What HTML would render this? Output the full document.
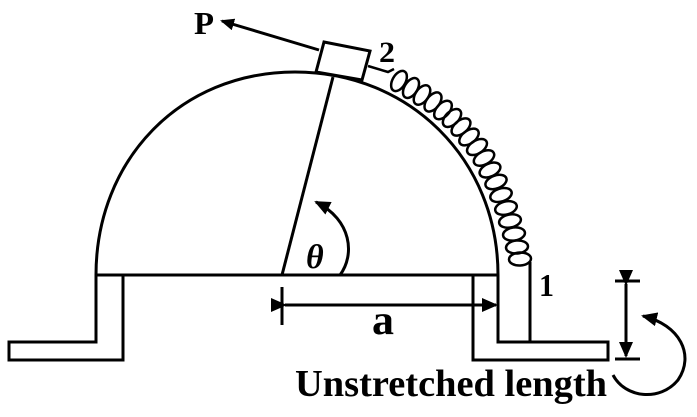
<!DOCTYPE html>
<html><head><meta charset="utf-8"><style>
html,body{margin:0;padding:0;background:#fff;width:697px;height:417px;overflow:hidden}
text{font-family:"Liberation Serif",serif;font-weight:bold;fill:#000}
</style></head><body>
<svg width="697" height="417" viewBox="0 0 697 417" xmlns="http://www.w3.org/2000/svg">
<defs>
<marker id="ah2" markerWidth="16" markerHeight="14" refX="14" refY="7" orient="auto" markerUnits="userSpaceOnUse">
<path d="M0,0 L16,7 L0,14 z" fill="#000"/></marker>
<marker id="ah3" markerWidth="14" markerHeight="12" refX="12" refY="6" orient="auto" markerUnits="userSpaceOnUse">
<path d="M0,0 L14,6 L0,12 z" fill="#000"/></marker>
</defs>
<g fill="none" stroke="#000" stroke-width="3">
<path d="M96,275 C96,160 180,72 295,72 C410,72 498,160 498,275"/>
<line x1="96" y1="275" x2="498" y2="275"/>
<path d="M96,275 L96,342 L9,342 L9,360 L123,360 L123,275"/>
<path d="M498,275 L498,342 L608,342 L608,360 L473,360 L473,275"/>
<line x1="530" y1="262" x2="530" y2="342"/>
<line x1="282" y1="275" x2="333" y2="77"/>
<polygon points="324,42 370,51 362,80 316,72" fill="#fff"/>
<line x1="319" y1="50" x2="222" y2="21" marker-end="url(#ah3)"/>
<polyline points="368,66 388,72 394,69" stroke-width="2.5"/>
<path d="M340,275 C355,255 352,220 316,202" marker-end="url(#ah2)"/>
<line x1="282" y1="287" x2="282" y2="325"/>
<line x1="285" y1="305" x2="496" y2="305" marker-start="url(#ah2)" marker-end="url(#ah2)"/>
<line x1="615" y1="281" x2="640" y2="281"/>
<line x1="615" y1="359" x2="640" y2="359"/>
<line x1="626" y1="284" x2="626" y2="356" marker-start="url(#ah2)" marker-end="url(#ah2)"/>
<path d="M613,375 C625,398 660,402 678,380 C695,355 680,325 643,316" marker-end="url(#ah2)"/>
</g>
<g fill="none" stroke="#000" stroke-width="2.5">
<ellipse cx="399" cy="81" rx="6.5" ry="11" transform="rotate(30 399 81)"/>
<ellipse cx="411" cy="88" rx="6.5" ry="11" transform="rotate(32 411 88)"/>
<ellipse cx="422" cy="95" rx="6.5" ry="11" transform="rotate(35 422 95)"/>
<ellipse cx="433" cy="102" rx="6.5" ry="11" transform="rotate(38 433 102)"/>
<ellipse cx="443" cy="110" rx="6.5" ry="11" transform="rotate(42 443 110)"/>
<ellipse cx="452" cy="118" rx="6.5" ry="11" transform="rotate(46 452 118)"/>
<ellipse cx="461" cy="127" rx="6.5" ry="11" transform="rotate(50 461 127)"/>
<ellipse cx="469" cy="137" rx="6.5" ry="11" transform="rotate(54 469 137)"/>
<ellipse cx="477" cy="147" rx="6.5" ry="11" transform="rotate(58 477 147)"/>
<ellipse cx="484" cy="158" rx="6.5" ry="11" transform="rotate(62 484 158)"/>
<ellipse cx="490" cy="170" rx="6.5" ry="11" transform="rotate(66 490 170)"/>
<ellipse cx="496" cy="182" rx="6.5" ry="11" transform="rotate(70 496 182)"/>
<ellipse cx="501" cy="195" rx="6.5" ry="11" transform="rotate(73 501 195)"/>
<ellipse cx="506" cy="208" rx="6.5" ry="11" transform="rotate(76 506 208)"/>
<ellipse cx="510" cy="221" rx="6.5" ry="11" transform="rotate(79 510 221)"/>
<ellipse cx="514" cy="234" rx="6.5" ry="11" transform="rotate(82 514 234)"/>
<ellipse cx="517" cy="247" rx="6.5" ry="11" transform="rotate(85 517 247)"/>
<ellipse cx="520" cy="259" rx="6.5" ry="11" transform="rotate(87 520 259)"/>
</g>
<text x="194" y="34" font-size="32" textLength="20" lengthAdjust="spacingAndGlyphs">P</text>
<text x="379" y="62" font-size="30" textLength="16" lengthAdjust="spacingAndGlyphs">2</text>
<text x="539" y="296" font-size="32" textLength="15" lengthAdjust="spacingAndGlyphs">1</text>
<text x="372" y="334" font-size="42" textLength="22" lengthAdjust="spacingAndGlyphs">a</text>
<text x="306" y="268" font-size="34" font-style="italic" font-weight="normal">θ</text>
<text x="295" y="396" font-size="38" textLength="312" lengthAdjust="spacingAndGlyphs">Unstretched length</text>
</svg>
</body></html>
